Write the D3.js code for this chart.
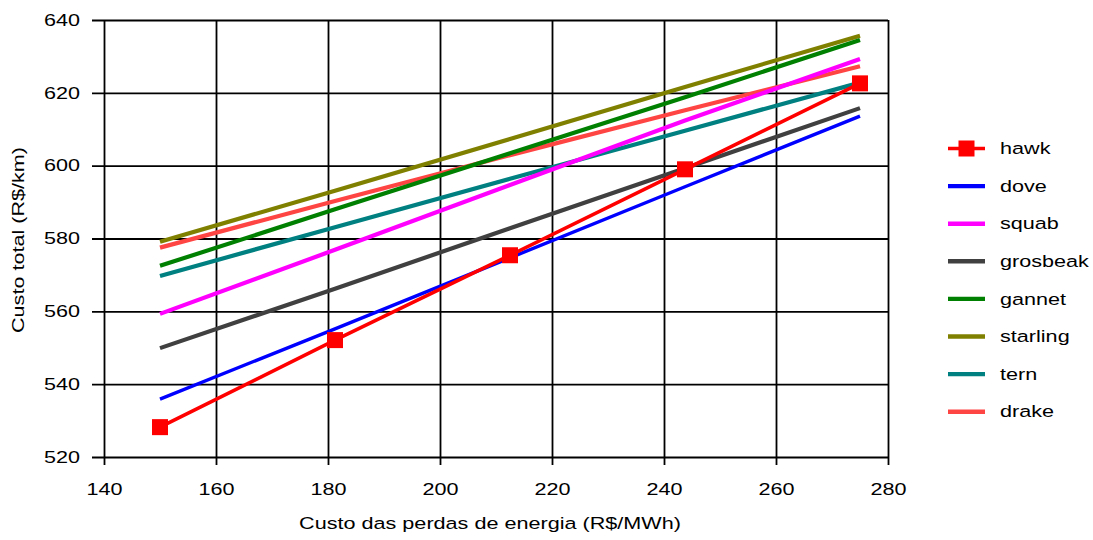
<!DOCTYPE html>
<html>
<head>
<meta charset="utf-8">
<script src="https://cdn.jsdelivr.net/npm/d3@7"></script>
<style>
  html, body { margin: 0; padding: 0; background: #fff; }
  svg text { font-family: "Liberation Sans", Arial, sans-serif; fill: #000; }
</style>
</head>
<body>
<svg id="chart" width="1093" height="540"></svg>
<script>
// Energy-loss cost (R$/MWh) against total line cost (R$/km) for each conductor
const lossCost = [150, 181.25, 212.5, 243.75, 275];

const seriesNames = ["hawk", "dove", "squab", "grosbeak", "gannet", "starling", "tern", "drake"];
const hawk     = [528.2, 552.1, 575.4, 599.0, 622.6];
const dove     = [535.9, 555.2, 574.7, 594.2, 613.6];
const squab    = [559.3, 576.9, 594.7, 612.4, 629.3];
const grosbeak = [549.9, 566.2, 582.8, 599.3, 615.8];
const gannet   = [572.5, 588.0, 603.4, 618.8, 634.5];
const starling = [579.1, 593.1, 607.3, 621.6, 635.7];
const tern     = [569.7, 583.1, 596.4, 609.6, 622.8];
const drake    = [577.5, 590.3, 602.9, 615.2, 627.3];

const seriesColors = ["#ff0000", "#0000ff", "#ff00ff", "#404040", "#008000", "#808000", "#008080", "#ff4444"];

const xTicks = [140, 160, 180, 200, 220, 240, 260, 280];
const yTicks = [520, 540, 560, 580, 600, 620, 640];
const xTitle = "Custo das perdas de energia (R$/MWh)";
const yTitle = "Custo total (R$/km)";

const seriesValues = [hawk, dove, squab, grosbeak, gannet, starling, tern, drake];
const series = seriesNames.map((name, i) => ({
  name,
  color: seriesColors[i],
  marker: name === "hawk",
  width: name === "hawk" ? 3.6 : (name === "dove" ? 3.4 : 4.2),
  points: lossCost.map((x, j) => ({ x, y: seriesValues[i][j] }))
}));

const svg = d3.select("#chart");
const plotLeft = 104, plotRight = 888, plotTop = 20, plotBottom = 457;
const stretch = 1.31;   // wide lettering
const fontSize = 16.5;

const x = d3.scaleLinear().domain([140, 280]).range([plotLeft, plotRight]);
const y = d3.scaleLinear().domain([520, 640]).range([plotBottom, plotTop]);

// y axis with full-width gridlines
const yAxis = svg.append("g")
  .attr("transform", `translate(${plotLeft - 12},0)`)
  .call(d3.axisLeft(y).tickValues(yTicks).tickSizeInner(-(plotRight - plotLeft + 12)).tickSizeOuter(0).tickPadding(12));
yAxis.select(".domain").remove();
yAxis.selectAll(".tick line").attr("stroke", "#000").attr("stroke-width", 1.8);
yAxis.selectAll(".tick text")
  .style("font-size", fontSize + "px")
  .attr("transform", `scale(${stretch},1)`)
  .attr("x", -12 / stretch);

// x axis with full-height gridlines
const xAxis = svg.append("g")
  .attr("transform", `translate(0,${plotBottom + 8})`)
  .call(d3.axisBottom(x).tickValues(xTicks).tickSizeInner(-(plotBottom + 8 - plotTop)).tickSizeOuter(0).tickPadding(18));
xAxis.select(".domain").remove();
xAxis.selectAll(".tick line").attr("stroke", "#000").attr("stroke-width", 1.8);
xAxis.selectAll(".tick text")
  .style("font-size", fontSize + "px")
  .attr("transform", `scale(${stretch},1)`);

// axis titles
svg.append("text")
  .attr("transform", `translate(${(plotLeft + plotRight) / 2 - 6},529) scale(${stretch},1)`)
  .attr("text-anchor", "middle")
  .style("font-size", fontSize + "px")
  .text(xTitle);

svg.append("text")
  .attr("transform", `translate(24,240) rotate(-90) scale(${stretch},1)`)
  .attr("text-anchor", "middle")
  .style("font-size", fontSize + "px")
  .text(yTitle);

// series lines, hawk drawn last so it sits on top
const line = d3.line().x(d => x(d.x)).y(d => y(d.y));
const plot = svg.append("g");
series.slice().reverse().forEach(s => {
  plot.append("path")
    .datum(s.points)
    .attr("fill", "none")
    .attr("stroke", s.color)
    .attr("stroke-width", s.width)
    .attr("d", line);
});

const markerSize = 16;
const hawkSeries = series[0];
plot.selectAll("rect.hawk")
  .data(hawkSeries.points)
  .join("rect")
  .attr("class", "hawk")
  .attr("x", d => x(d.x) - markerSize / 2)
  .attr("y", d => y(d.y) - markerSize / 2)
  .attr("width", markerSize)
  .attr("height", markerSize)
  .attr("fill", hawkSeries.color);

// legend
const legend = svg.append("g");
const legendTop = 148.5, legendStep = 37.6;
series.forEach((s, i) => {
  const ly = legendTop + i * legendStep;
  const g = legend.append("g").attr("transform", `translate(0,${ly})`);
  g.append("line")
    .attr("x1", 948).attr("x2", 985)
    .attr("y1", 0).attr("y2", 0)
    .attr("stroke", s.color)
    .attr("stroke-width", s.marker ? 3.6 : 4.4);
  if (s.marker) {
    g.append("rect")
      .attr("x", 966.5 - markerSize / 2).attr("y", -markerSize / 2)
      .attr("width", markerSize).attr("height", markerSize)
      .attr("fill", s.color);
  }
  g.append("text")
    .attr("transform", `translate(1000,0) scale(${stretch},1)`)
    .attr("dy", "0.35em")
    .style("font-size", fontSize + "px")
    .text(s.name);
});
</script>
</body>
</html>
